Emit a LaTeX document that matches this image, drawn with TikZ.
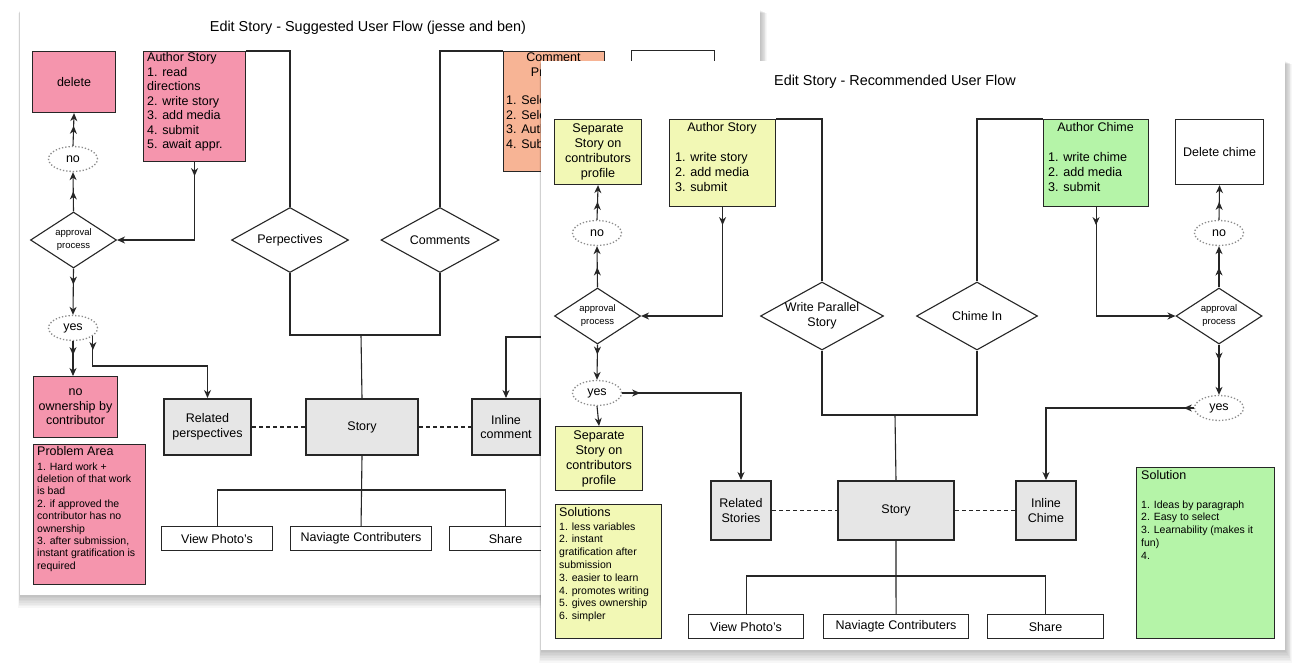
\documentclass[tikz,border=0pt]{standalone}
\usepackage{fontspec}
\setmainfont{Liberation Sans}
\usetikzlibrary{arrows.meta,shapes.geometric,decorations.markings}

\newcommand{\fsz}[2]{\fontsize{#1}{#2}\selectfont}

\definecolor{pinkfill}{HTML}{F595AD}
\definecolor{orangefill}{HTML}{F7B495}
\definecolor{yellowfill}{HTML}{F2F8B5}
\definecolor{greenfill}{HTML}{B5F4A8}
\definecolor{grayfill}{HTML}{E6E6E6}
\definecolor{dotgray}{HTML}{8C8C8C}

\tikzset{
  flowtip/.tip={Stealth[length=8pt,width=7pt,inset=2.5pt]},
  box/.style={draw=black!85, line width=1.1pt, inner sep=0pt, align=center, font=\fsz{12.5}{14.5}},
  pinkbox/.style={box, fill=pinkfill},
  orangebox/.style={box, fill=orangefill},
  yellowbox/.style={box, fill=yellowfill, font=\fsz{12.6}{15}},
  greenbox/.style={box, fill=greenfill},
  whitebox/.style={box, fill=white},
  graybox/.style={box, fill=grayfill, line width=2pt},
  smallbox/.style={box, fill=white, minimum height=24pt},
  decision/.style={diamond, draw=black!85, line width=1.1pt, fill=white, inner sep=0pt},
  dtext/.style={inner sep=0pt, align=center, font=\fsz{12.5}{14.5}},
  approval/.style={decision, minimum width=86pt, minimum height=56pt},
  answer/.style={ellipse, draw=dotgray, dotted, line width=1.3pt, minimum width=49pt, minimum height=25pt, inner sep=0pt, font=\fsz{12.5}{14}},
  listtext/.style={anchor=north west, inner sep=0pt, align=left},
  headtext/.style={anchor=north west, inner sep=0pt, font=\fsz{12.5}{14}},
  link/.style={draw=black!85, line width=1.1pt},
  flow/.style={link, -flowtip},
  twohead/.style={flow, postaction={decorate},
    decoration={markings, mark=at position #1 with {\arrow{flowtip}}}},
  twohead/.default=20pt,
  dashlink/.style={draw=black!85, line width=1.1pt, dash pattern=on 4pt off 3pt},
  title/.style={inner sep=0pt, font=\fsz{14.4}{16}},
}

\begin{document}
\begin{tikzpicture}[x=1pt, y=-1pt]
\useasboundingbox (0,0) rectangle (1309,670);
\fill[white] (0,0) rectangle (1309,670);

%========================
% Sheet 1 : suggested flow
%========================
\foreach \s in {1,...,8}
  \fill[black, opacity=0.03] (20-\s*0.2,10+\s*0.4) rectangle (760+\s*0.9,595+\s*1.6);
\fill[white] (20,10) rectangle (760,595);

\node[title] (title1) at (368,28) {Edit Story - Suggested User Flow (jesse and ben)};

% top row
\node[pinkbox, anchor=north west, minimum width=83pt, minimum height=61pt] (del1) at (32,51) {delete};
\node[pinkbox, anchor=north west, minimum width=102pt, minimum height=110pt] (auth1) at (143,51) {};
\node[listtext, font=\fsz{12.5}{14.5}] (auth1txt) at (147,52.5)
  {Author Story\\1. read\\directions\\2. write story\\3. add media\\4. submit\\5. await appr.};
\node[orangebox, anchor=north west, minimum width=101pt, minimum height=120pt] (cmt1) at (503,51) {};
\node[inner sep=0pt, anchor=north, align=center, font=\fsz{12.5}{15}] (cmt1head) at (553.5,52.5) {Comment\\Process};
\node[listtext, font=\fsz{12.5}{14.5}] (cmt1txt) at (506,95.5) {1. Select\\2. Select\\3. Author\\4. Submit};
\node[whitebox, anchor=north west, minimum width=83pt, minimum height=62pt] (hid1) at (631,50) {};

% decisions
\node[decision, minimum width=117pt, minimum height=65pt] (persp) at (290,240) {};
\node[dtext] (persptxt) at (persp) {Perpectives};
\node[decision, minimum width=118pt, minimum height=65pt] (comm) at (440,240) {};
\node[dtext] (commtxt) at (comm) {Comments};
\node[approval] (appr1) at (73.5,240) {};
\node[dtext, font=\fsz{9.5}{13}] (appr1txt) at (appr1) {approval\\process};
\node[answer] (no1) at (73,159) {no};
\node[answer] (yes1) at (73,328) {yes};

% outcome boxes
\node[pinkbox, anchor=north west, minimum width=84pt, minimum height=61pt] (noown) at (33,376) {no\\ownership by\\contributor};
\node[pinkbox, anchor=north west, minimum width=112pt, minimum height=140pt] (prob) at (33,444) {};
\node[headtext] (probhead) at (37,446.5) {Problem Area};
\node[listtext, font=\fsz{10.5}{12.4}] (probtxt) at (37,462.2)
  {1. Hard work +\\deletion of that work\\is bad\\2. if approved the\\contributor has no\\ownership\\3. after submission,\\instant gratification is\\required};

% story row
\node[graybox, anchor=north west, minimum width=87pt, minimum height=56pt] (rel1) at (163,398) {Related\\perspectives};
\node[graybox, anchor=north west, minimum width=112pt, minimum height=56pt] (story1) at (305,398) {Story};
\node[graybox, anchor=north west, minimum width=68pt, minimum height=56pt] (inl1) at (471,398) {Inline\\comment};
\node[smallbox, anchor=north west, minimum width=111pt] (view1) at (161,526) {View Photo's};
\node[smallbox, anchor=north west, minimum width=141pt] (nav1) at (290,526) {Naviagte Contributers};
\node[smallbox, anchor=north west, minimum width=112pt] (share1) at (449,526) {Share};

\coordinate (j1) at (361,335);
\coordinate (k1) at (361,490);
\coordinate (c1) at (600,337);

% connectors
\draw[link] (auth1.north east) -| (persp.north);
\draw[link] (comm.north) |- (cmt1.north west);
\draw[twohead=14pt] (auth1.south) |- (appr1.east);
\draw[twohead] (appr1.north) -- (no1.south);
\draw[twohead] (no1.north) -- (del1.south);
\draw[twohead=16pt] (appr1.south) -- (yes1.north);
\draw[twohead=14pt] (yes1.south) -- (yes1.south |- noown.north);
\draw[twohead=14pt] (yes1.-22) -- ++(0,30) -| (rel1.north);
\draw[link] (persp.south) |- (j1) -| (comm.south);
\draw[link] (story1.north) -- (j1);
\draw[link] (story1.south) -- (nav1.north);
\draw[link] (view1.north) |- (k1) -| (share1.north);
\draw[dashlink] (rel1.east) -- (story1.west);
\draw[dashlink] (story1.east) -- (inl1.west);
\draw[flow] (c1) -| (inl1.north);

%========================
% Sheet 2 : recommended flow
%========================
\foreach \s in {1,...,8}
  \fill[black, opacity=0.03] (541-\s*0.2,61+\s*0.4) rectangle (1285+\s*0.9,650+\s*1.6);
\fill[white] (541,61) rectangle (1285,650);

\node[title] (title2) at (895,82) {Edit Story - Recommended User Flow};

% top row
\node[yellowbox, anchor=north west, minimum width=87pt, minimum height=65pt] (sep2a) at (554,119) {Separate\\Story on\\contributors\\profile};
\node[yellowbox, anchor=north west, minimum width=106pt, minimum height=87pt] (auth2) at (669,119) {};
\node[inner sep=0pt, anchor=north, font=\fsz{12.5}{14.5}] (auth2head) at (722,122.5) {Author Story};
\node[listtext, font=\fsz{12.6}{14.7}] (auth2txt) at (675,152.5) {1. write story\\2. add media\\3. submit};
\node[greenbox, anchor=north west, minimum width=105pt, minimum height=87pt] (authc) at (1043,119) {};
\node[inner sep=0pt, anchor=north, font=\fsz{12.5}{14.5}] (authchead) at (1095.5,122.5) {Author Chime};
\node[listtext, font=\fsz{12.6}{14.7}] (authctxt) at (1048,152.5) {1. write chime\\2. add media\\3. submit};
\node[whitebox, anchor=north west, minimum width=88pt, minimum height=65pt] (delc) at (1175,119) {Delete chime};

% decisions
\node[decision, minimum width=123pt, minimum height=68pt] (wps) at (822,316) {};
\node[dtext] (wpstxt) at (wps) {Write Parallel\\Story};
\node[decision, minimum width=121pt, minimum height=68pt] (chime) at (977,316) {};
\node[dtext] (chimetxt) at (chime) {Chime In};
\node[approval] (appr2L) at (597.5,316) {};
\node[dtext, font=\fsz{9.5}{13}] (appr2Ltxt) at (appr2L) {approval\\process};
\node[approval] (appr2R) at (1219,316) {};
\node[dtext, font=\fsz{9.5}{13}] (appr2Rtxt) at (appr2R) {approval\\process};
\node[answer] (no2L) at (597,233) {no};
\node[answer] (yes2L) at (597,393) {yes};
\node[answer] (no2R) at (1219,233) {no};
\node[answer] (yes2R) at (1219,408) {yes};

% left column
\node[yellowbox, anchor=north west, minimum width=87pt, minimum height=64pt] (sep2b) at (555,426) {Separate\\Story on\\contributors\\profile};
\node[yellowbox, anchor=north west, minimum width=106pt, minimum height=134pt] (sol2) at (555,504) {};
\node[headtext] (sol2head) at (559,507.5) {Solutions};
\node[listtext, font=\fsz{10.5}{12.8}] (sol2txt) at (559,522.2)
  {1. less variables\\2. instant\\gratification after\\submission\\3. easier to learn\\4. promotes writing\\5. gives ownership\\6. simpler};

% story row
\node[graybox, anchor=north west, minimum width=60pt, minimum height=59pt] (rel2) at (710,480) {Related\\Stories};
\node[graybox, anchor=north west, minimum width=116pt, minimum height=59pt] (story2) at (837,480) {Story};
\node[graybox, anchor=north west, minimum width=60pt, minimum height=59pt] (inl2) at (1015,480) {Inline\\Chime};
\node[smallbox, anchor=north west, minimum width=115pt] (view2) at (688,614) {View Photo's};
\node[smallbox, anchor=north west, minimum width=145pt] (nav2) at (823,614) {Naviagte Contributers};
\node[smallbox, anchor=north west, minimum width=116pt] (share2) at (987,614) {Share};

% solution note
\node[greenbox, anchor=north west, minimum width=138pt, minimum height=171pt] (solG) at (1136,467) {};
\node[headtext] (solGhead) at (1141,470.5) {Solution};
\node[listtext, font=\fsz{10.5}{12.9}] (solGtxt) at (1141,500.2)
  {1. Ideas by paragraph\\2. Easy to select\\3. Learnability (makes it\\fun)\\4.};

\coordinate (j2) at (895,415);
\coordinate (k2) at (895,576);

% connectors
\draw[link] (auth2.north east) -| (wps.north);
\draw[link] (chime.north) |- (authc.north west);
\draw[twohead=18pt] (auth2.south) |- (appr2L.east);
\draw[twohead] (appr2L.north) -- (no2L.south);
\draw[twohead=18pt] (no2L.north) -- (sep2a.south);
\draw[twohead=10pt] (appr2L.south) -- (yes2L.north);
\draw[flow] (yes2L.south) -- (sep2b.north);
\draw[twohead=18pt] (yes2L.east) -| (rel2.north);
\draw[link] (wps.south) |- (j2) -| (chime.south);
\draw[link] (story2.north) -- (j2);
\draw[link] (story2.south) -- (nav2.north);
\draw[link] (view2.north) |- (k2) -| (share2.north);
\draw[dashlink] (rel2.east) -- (story2.west);
\draw[dashlink] (story2.east) -- (inl2.west);
\draw[twohead=18pt] (authc.south) |- (appr2R.west);
\draw[twohead] (appr2R.north) -- (no2R.south);
\draw[twohead=18pt] (no2R.north) -- (delc.south);
\draw[twohead=16pt] (appr2R.south) -- (yes2R.north);
\draw[twohead=10pt] (yes2R.west) -| (inl2.north);

\end{tikzpicture}
\end{document}
